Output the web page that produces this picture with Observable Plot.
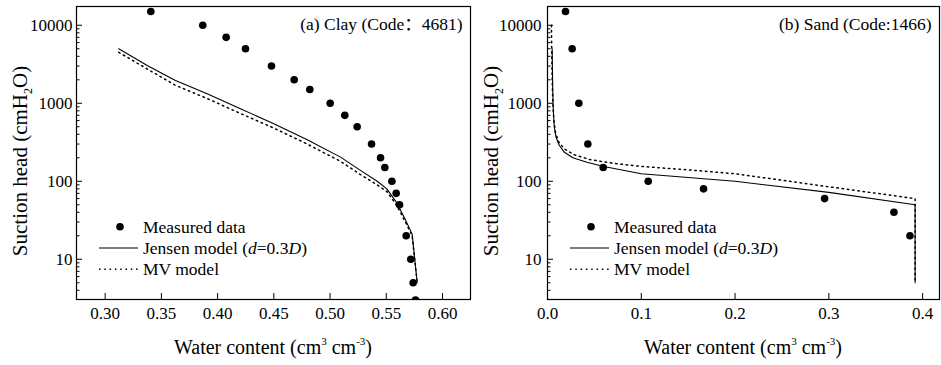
<!DOCTYPE html>
<html><head><meta charset="utf-8">
<script src="https://cdn.jsdelivr.net/npm/d3@7"></script>
<script src="https://cdn.jsdelivr.net/npm/@observablehq/plot@0.6"></script>
<style>
body{margin:0;background:#fff;}
#wrap{display:flex;width:941px;height:365px;background:#fff;}
#wrap svg{display:block;}
</style></head><body><div id="wrap"></div>
<script>
// ---------- data ----------
const yMajor = [10, 100, 1000, 10000];
const yMinor = [4, 5, 6, 7, 8, 9, 20, 30, 40, 50, 60, 70, 80, 90, 200, 300, 400, 500, 600, 700, 800, 900, 2000, 3000, 4000, 5000, 6000, 7000, 8000, 9000];
const yDomain = [3.05, 17400];

const clayTicks = [0.30, 0.35, 0.40, 0.45, 0.50, 0.55, 0.60];
const sandTicks = [0.0, 0.1, 0.2, 0.3, 0.4];

// (a) Clay
const clayMeasX = [0.3406, 0.3868, 0.4076, 0.4248, 0.4479, 0.4681, 0.482, 0.5001, 0.5131, 0.5241, 0.5369, 0.5449, 0.5487, 0.555, 0.5588, 0.5618, 0.5677, 0.5718, 0.5739, 0.576];
const clayMeasH = [15000, 10000, 7000, 5000, 3000, 2000, 1500, 1000, 700, 500, 300, 200, 150, 100, 70, 50, 20, 10, 5, 3];
const clayJenX = [0.3121, 0.3374, 0.3625, 0.3907, 0.4203, 0.45, 0.4797, 0.5093, 0.527, 0.5419, 0.5505, 0.5597, 0.567, 0.573, 0.5775];
const clayJenH = [5000, 3050, 1960, 1325, 850, 547, 341, 204, 138, 100, 80, 52, 32, 21, 5];
const clayMvX  = [0.3121, 0.3374, 0.3625, 0.3907, 0.4203, 0.45, 0.4797, 0.5093, 0.527, 0.5419, 0.5505, 0.5597, 0.567, 0.573, 0.5775];
const clayMvH  = [4500, 2750, 1700, 1150, 740, 480, 300, 180, 122, 90, 74, 48, 30, 20, 5];

// (b) Sand
const sandMeasX = [0.0192, 0.0263, 0.0334, 0.043, 0.0594, 0.1074, 0.1664, 0.2955, 0.3694, 0.3865];
const sandMeasH = [15000, 5000, 1000, 300, 150, 100, 80, 60, 40, 20];
const sandJenX = [0.005, 0.0052, 0.0056, 0.0062, 0.0072, 0.009, 0.0125, 0.018, 0.027, 0.042, 0.06, 0.1, 0.15, 0.2, 0.3, 0.392, 0.392];
const sandJenH = [5000, 3000, 1500, 800, 500, 370, 290, 235, 200, 175, 155, 125, 112, 100, 72, 50, 5];
const sandMvX  = [0.0042, 0.0045, 0.005, 0.0057, 0.0068, 0.0085, 0.012, 0.018, 0.028, 0.045, 0.07, 0.1, 0.15, 0.2, 0.3, 0.392, 0.392];
const sandMvH  = [10000, 5000, 2000, 1000, 600, 420, 320, 260, 220, 190, 170, 155, 140, 125, 85, 60, 5];

const panelTitles = ["(a) Clay (Code\uFF1A4681)", "(b) Sand (Code:1466)"];
const legendLabels = ["Measured data", "Jensen model (", "MV model"];

// ---------- drawing ----------
const FONT = "'Liberation Serif', 'Times New Roman', Tinos, 'DejaVu Serif', serif";
const TITLE_FONT = "'Liberation Serif', 'Times New Roman', 'Noto Sans CJK SC', serif";
const zip = (xs, hs) => xs.map((x, i) => ({x, h: hs[i]}));

function panel({W, mL, mR, xDomain, xTicks, xFmt, meas, jensen, mv, title, yPad}) {
  const svg = Plot.plot({
    width: W, height: 365, marginLeft: mL, marginRight: mR, marginTop: 6, marginBottom: 66,
    style: {fontFamily: FONT, fontSize: "17px", color: "black", background: "white", overflow: "visible"},
    x: {domain: xDomain},
    y: {type: "log", domain: yDomain},
    marks: [
      Plot.line(mv, {x: "x", y: "h", stroke: "black", strokeWidth: 1.5, strokeDasharray: "1.5,3.8", clip: true}),
      Plot.line(jensen, {x: "x", y: "h", stroke: "black", strokeWidth: 1.1, clip: true}),
      Plot.dot(meas, {x: "x", y: "h", r: 3.8, fill: "black", stroke: null, clip: true}),
      Plot.axisX({ticks: xTicks, tickSize: 6, dy: -6, fill: "none", label: null}),
      Plot.axisX({ticks: xTicks, tickSize: 0, tickPadding: 7, tickFormat: xFmt, label: null}),
      Plot.axisY({ticks: yMajor, tickSize: 6, dx: 6, fill: "none", label: null}),
      Plot.axisY({ticks: yMinor, tickSize: 3.5, dx: 3.5, fill: "none", label: null}),
      Plot.axisY({ticks: yMajor, tickSize: 0, tickPadding: yPad, tickFormat: d => String(d), label: null}),
      Plot.frame({stroke: "black", strokeWidth: 1.2}),
      Plot.text([title], {frameAnchor: "top-right", text: d => d, dx: -8, dy: 17.5, lineAnchor: "middle", textAnchor: "end", fontSize: 17.5, fontFamily: TITLE_FONT})
    ]
  });
  const s = d3.select(svg);
  const cx = (mL + W - mR) / 2;
  // x title
  const xt = s.append("text").attr("x", cx).attr("y", 354).attr("text-anchor", "middle")
    .style("font-family", FONT).style("font-size", "20px").attr("fill", "black");
  xt.append("tspan").text("Water content (cm");
  xt.append("tspan").attr("dy", -9).style("font-size", "11px").text("3");
  xt.append("tspan").attr("dy", 9).text(" cm");
  xt.append("tspan").attr("dy", -9).style("font-size", "11px").text("-3");
  xt.append("tspan").attr("dy", 9).text(")");
  // y title
  const yt = s.append("text").attr("transform", `translate(${mL - 49},161) rotate(-90)`).attr("text-anchor", "middle")
    .style("font-family", FONT).style("font-size", "21px").attr("fill", "black");
  yt.append("tspan").text("Suction head (cmH");
  yt.append("tspan").attr("dy", 5).style("font-size", "12px").text("2");
  yt.append("tspan").attr("dy", -5).text("O)");
  // legend
  const g = s.append("g").attr("transform", `translate(${mL},0)`)
    .style("font-family", FONT).style("font-size", "17.5px").attr("text-anchor", "start");
  const rows = [226.7, 248, 269.3];
  g.append("circle").attr("cx", 44).attr("cy", rows[0]).attr("r", 3.8).attr("fill", "black");
  g.append("line").attr("x1", 23).attr("x2", 62).attr("y1", rows[1]).attr("y2", rows[1]).attr("stroke", "black").attr("stroke-width", 1.1);
  g.append("line").attr("x1", 23).attr("x2", 62).attr("y1", rows[2]).attr("y2", rows[2]).attr("stroke", "black").attr("stroke-width", 1.5).attr("stroke-dasharray", "1.5,3.8");
  g.append("text").attr("text-anchor", "start").attr("x", 67).attr("y", rows[0]).attr("dy", "0.35em").text(legendLabels[0]);
  const t2 = g.append("text").attr("text-anchor", "start").attr("x", 67).attr("y", rows[1]).attr("dy", "0.35em");
  t2.append("tspan").text(legendLabels[1]);
  t2.append("tspan").style("font-style", "italic").text("d");
  t2.append("tspan").text("=0.3");
  t2.append("tspan").style("font-style", "italic").text("D");
  t2.append("tspan").text(")");
  g.append("text").attr("text-anchor", "start").attr("x", 67).attr("y", rows[2]).attr("dy", "0.35em").text(legendLabels[2]);
  return svg;
}

const wrap = document.getElementById("wrap");
wrap.appendChild(panel({
  W: 472, mL: 76, mR: 2, xDomain: [0.2745, 0.6249], xTicks: clayTicks, xFmt: d3.format(".2f"),
  meas: zip(clayMeasX, clayMeasH), jensen: zip(clayJenX, clayJenH), mv: zip(clayMvX, clayMvH),
  title: panelTitles[0], yPad: 4
}));
wrap.appendChild(panel({
  W: 469, mL: 75, mR: 2, xDomain: [0, 0.418], xTicks: sandTicks, xFmt: d3.format(".1f"),
  meas: zip(sandMeasX, sandMeasH), jensen: zip(sandJenX, sandJenH), mv: zip(sandMvX, sandMvH),
  title: panelTitles[1], yPad: 6
}));
</script></body></html>
